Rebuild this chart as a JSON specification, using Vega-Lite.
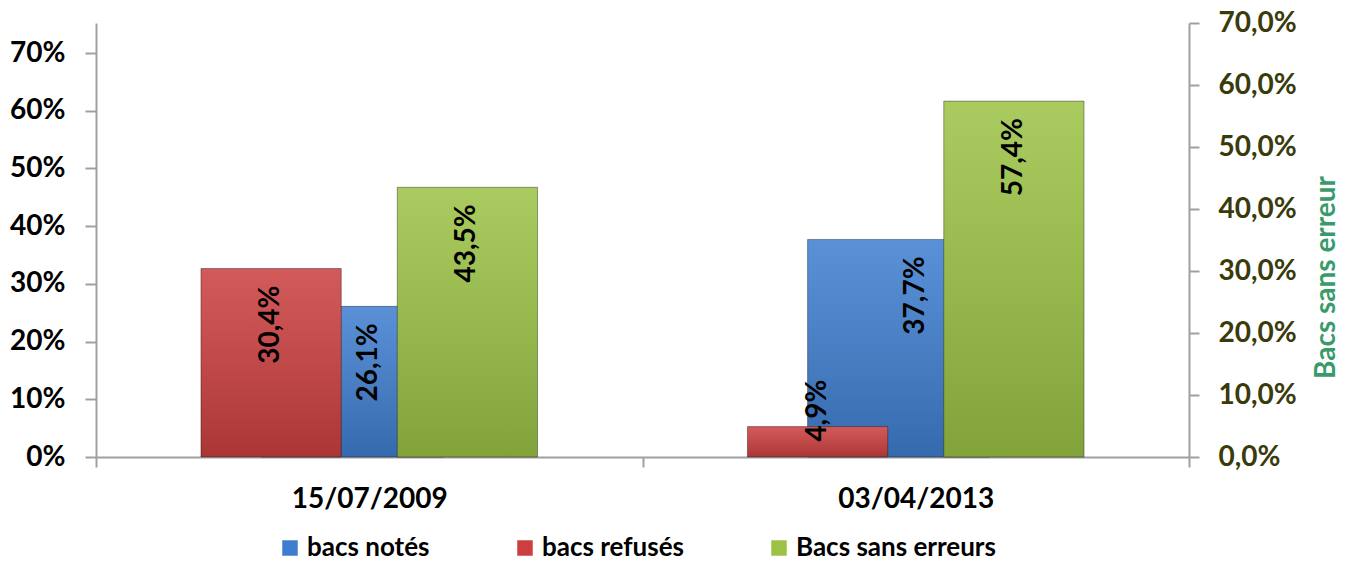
{
  "$schema": "https://vega.github.io/schema/vega-lite/v6.json",
  "width": 1093,
  "height": 434,
  "autosize": {"type": "none"},
  "padding": {"left": 96, "top": 23, "right": 160, "bottom": 105},
  "background": "white",
  "data": {
    "values": [
      {"date": "15/07/2009", "serie": "bacs notés", "value": 0.261},
      {"date": "15/07/2009", "serie": "bacs refusés", "value": 0.304},
      {"date": "15/07/2009", "serie": "Bacs sans erreurs", "value": 0.435},
      {"date": "03/04/2013", "serie": "bacs notés", "value": 0.377},
      {"date": "03/04/2013", "serie": "bacs refusés", "value": 0.049},
      {"date": "03/04/2013", "serie": "Bacs sans erreurs", "value": 0.574}
    ]
  },
  "layer": [
    {
      "transform": [{"filter": "datum.serie === 'bacs notés'"}],
      "encoding": {
        "x": {
          "field": "date", "type": "nominal", "sort": null,
          "scale": {"domain": ["15/07/2009", "03/04/2013"], "paddingInner": 0, "paddingOuter": 0},
          "axis": {"title": null, "labelAngle": 0, "tickBand": "extent", "labelPadding": 18, "tickSize": 10}
        },
        "y": {
          "field": "value", "type": "quantitative",
          "scale": {"domain": [0, 0.752], "nice": false, "zero": true},
          "axis": {"orient": "left", "title": null, "format": ".0%", "values": [0, 0.1, 0.2, 0.3, 0.4, 0.5, 0.6, 0.7], "labelPadding": 20, "tickSize": 11}
        }
      },
      "layer": [
        {
          "mark": {"type": "bar"},
          "encoding": {
            "xOffset": {"field": "serie", "type": "nominal", "scale": {"domain": ["bacs notés"], "paddingInner": 0, "paddingOuter": 2.3375, "align": 0.4531}},
            "color": {
              "field": "serie", "type": "nominal",
              "scale": {"domain": ["bacs notés", "bacs refusés", "Bacs sans erreurs"], "range": ["#3f7ecf", "#cc3f3f", "#9bc244"]},
              "legend": {"orient": "none", "legendX": 181, "legendY": 512, "direction": "horizontal", "title": null, "symbolType": "square", "symbolSize": 240, "symbolStrokeWidth": 0, "labelFont": "Lato", "labelFontWeight": "bold", "labelFontSize": 26, "labelColor": "#000", "labelOffset": 4, "columnPadding": 82, "labelLimit": 400}
            }
          }
        },
        {
          "mark": {"type": "bar", "stroke": "rgba(0,0,0,0.35)", "strokeWidth": 1},
          "encoding": {
            "xOffset": {"field": "serie", "type": "nominal"},
            "color": {"value": {"gradient": "linear", "x1": 0, "y1": 0, "x2": 0, "y2": 1, "stops": [{"offset": 0, "color": "rgba(255,255,255,0.14)"}, {"offset": 1, "color": "rgba(0,0,0,0.16)"}]}}
          }
        },
        {
          "mark": {"type": "text", "angle": 270, "align": "right", "baseline": "middle", "dx": -17, "font": "Lato", "fontWeight": "bold", "fontSize": 28, "color": "#000"},
          "encoding": {
            "text": {"field": "value", "type": "quantitative", "format": ".1%"}
          }
        }
      ]
    },
    {
      "transform": [{"filter": "datum.serie !== 'bacs notés'"}],
      "encoding": {
        "x": {
          "field": "date", "type": "nominal", "sort": null,
          "scale": {"domain": ["15/07/2009", "03/04/2013"], "paddingInner": 0, "paddingOuter": 0},
          "axis": {"title": null, "labelAngle": 0, "tickBand": "extent", "labelPadding": 18, "tickSize": 10}
        },
        "xOffset": {"field": "serie", "type": "nominal", "scale": {"domain": ["bacs refusés", "Bacs sans erreurs"], "paddingInner": 0.2853, "paddingOuter": 0.5347}},
        "y": {
          "field": "value", "type": "quantitative",
          "scale": {"domain": [0, 0.7], "nice": false, "zero": true},
          "axis": {"orient": "right", "format": ".1%", "values": [0, 0.1, 0.2, 0.3, 0.4, 0.5, 0.6, 0.7], "labelPadding": 19, "tickSize": 10, "labelColor": "#3a3a0b", "title": "Bacs sans erreur", "titleColor": "#3a9b6a", "titleFont": "Lato", "titleFontSize": 28, "titleFontWeight": "bold", "titleAngle": 270, "titleX": 137, "titleY": 254, "titleAlign": "center", "titleBaseline": "middle"}
        }
      },
      "layer": [
        {
          "mark": {"type": "bar"},
          "encoding": {
            "color": {
              "field": "serie", "type": "nominal",
              "scale": {"domain": ["bacs notés", "bacs refusés", "Bacs sans erreurs"], "range": ["#3f7ecf", "#cc3f3f", "#9bc244"]},
              "legend": {"orient": "none", "legendX": 181, "legendY": 512, "direction": "horizontal", "title": null, "symbolType": "square", "symbolSize": 240, "symbolStrokeWidth": 0, "labelFont": "Lato", "labelFontWeight": "bold", "labelFontSize": 26, "labelColor": "#000", "labelOffset": 4, "columnPadding": 82, "labelLimit": 400}
            }
          }
        },
        {
          "mark": {"type": "bar", "stroke": "rgba(0,0,0,0.35)", "strokeWidth": 1},
          "encoding": {
            "color": {"value": {"gradient": "linear", "x1": 0, "y1": 0, "x2": 0, "y2": 1, "stops": [{"offset": 0, "color": "rgba(255,255,255,0.14)"}, {"offset": 1, "color": "rgba(0,0,0,0.16)"}]}}
          }
        },
        {
          "transform": [{"filter": "datum.value >= 0.1"}],
          "mark": {"type": "text", "angle": 270, "align": "right", "baseline": "middle", "dx": -17, "font": "Lato", "fontWeight": "bold", "fontSize": 28, "color": "#000"},
          "encoding": {
            "text": {"field": "value", "type": "quantitative", "format": ".1%"}
          }
        },
        {
          "transform": [{"filter": "datum.value < 0.1"}],
          "mark": {"type": "text", "angle": 270, "align": "left", "baseline": "middle", "dx": -15, "font": "Lato", "fontWeight": "bold", "fontSize": 28, "color": "#000"},
          "encoding": {
            "text": {"field": "value", "type": "quantitative", "format": ".1%"}
          }
        }
      ]
    }
  ],
  "resolve": {"scale": {"y": "independent", "xOffset": "independent"}},
  "config": {
    "locale": {"number": {"decimal": ",", "thousands": " ", "grouping": [3], "currency": ["", " €"]}},
    "view": {"stroke": null},
    "font": "Lato",
    "axis": {"labelFont": "Lato", "labelFontWeight": "bold", "labelFontSize": 28, "labelColor": "#000", "domainColor": "#a0a0a0", "domainWidth": 2, "tickColor": "#a0a0a0", "tickWidth": 2, "grid": false, "titleFont": "Lato"}
  }
}
